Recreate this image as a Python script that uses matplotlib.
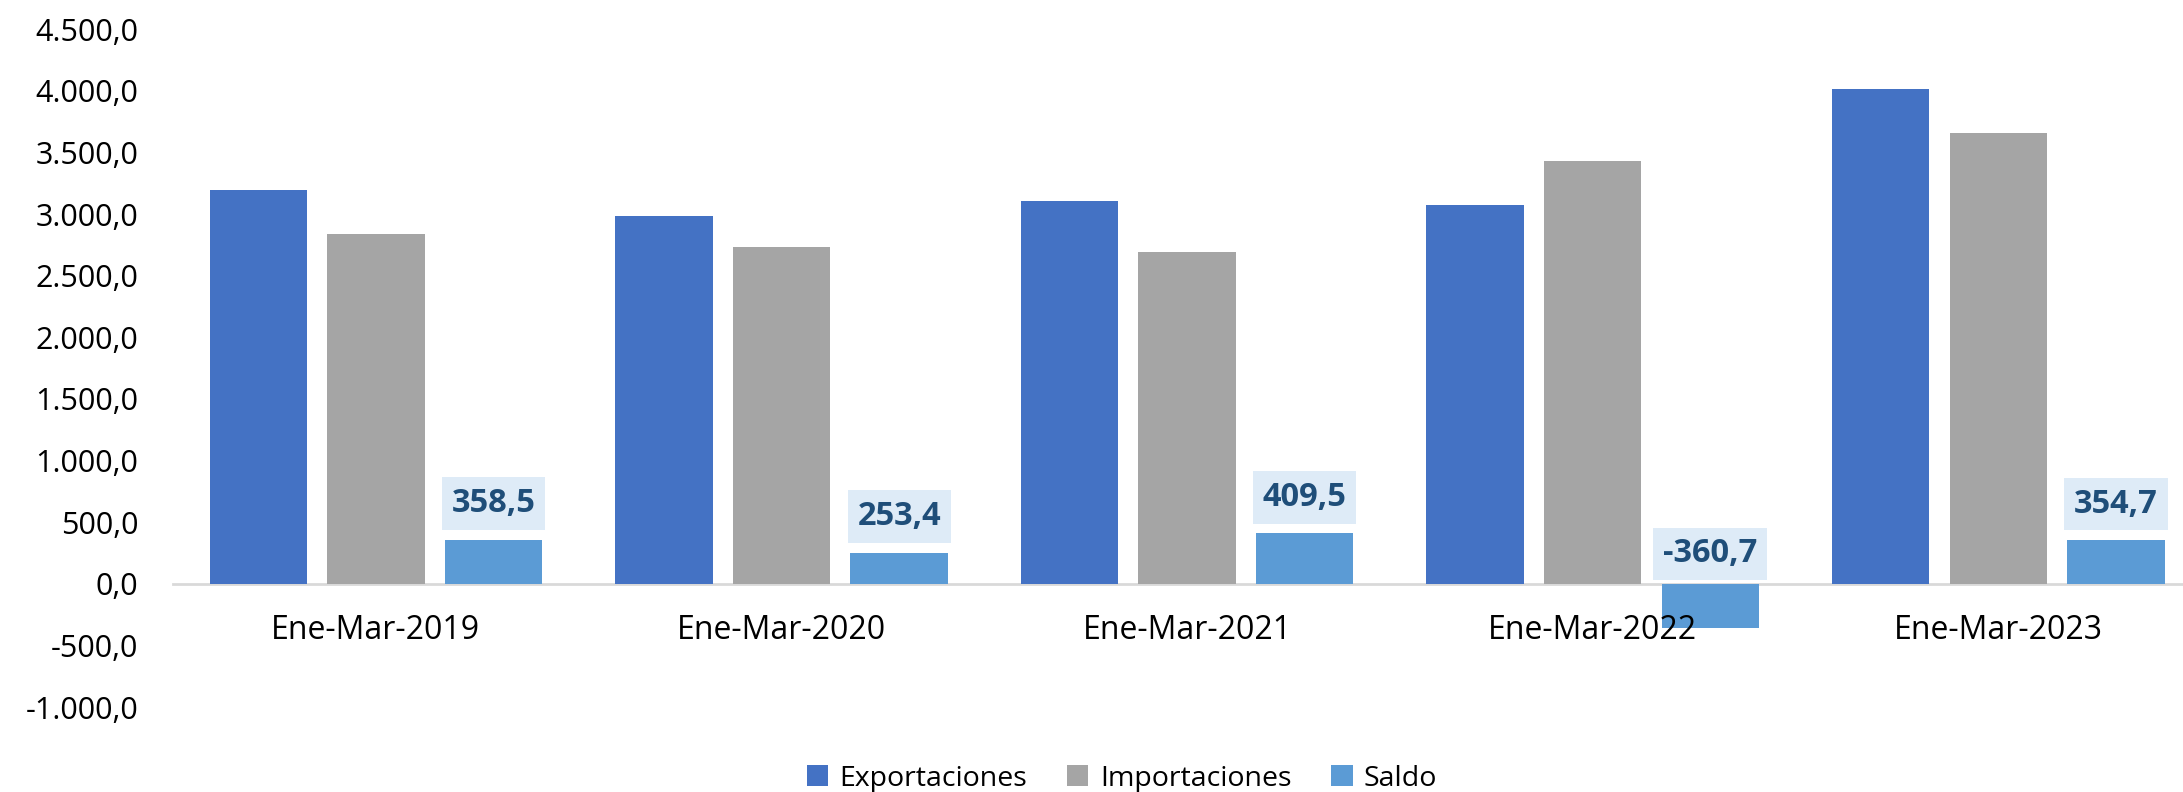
import matplotlib.pyplot as plt
import numpy as np

plt.rcParams['font.family'] = ['Open Sans', 'DejaVu Sans']

# Datos (millones)
periodos = ["Ene-Mar-2019", "Ene-Mar-2020", "Ene-Mar-2021", "Ene-Mar-2022", "Ene-Mar-2023"]
exportaciones = [3195.0, 2987.0, 3105.0, 3072.0, 4015.0]
importaciones = [2836.5, 2733.6, 2695.5, 3432.7, 3660.3]
saldo = [358.5, 253.4, 409.5, -360.7, 354.7]


def fmt_es(v):
    s = f"{v:,.1f}"
    return s.replace(",", "X").replace(".", ",").replace("X", ".")


fig = plt.figure(figsize=(21.83, 7.92), dpi=100)
ax = fig.add_axes([0.0793, 0.1073, 0.929, 0.8557])

x = np.arange(len(periodos))
w = 0.24
sep = 0.29

ax.bar(x - sep, exportaciones, w, color="#4472C4", label="Exportaciones")
ax.bar(x, importaciones, w, color="#A5A5A5", label="Importaciones")
ax.bar(x + sep, saldo, w, color="#5B9BD5", label="Saldo")

# etiquetas del saldo
for xi, v in zip(x + sep, saldo):
    off = 36 if v >= 0 else 30
    ax.annotate(fmt_es(v), (xi, max(v, 0)), xytext=(0, off), textcoords="offset pixels",
                ha="center", va="center", fontsize=23.5, fontweight="bold", color="#1F4E79",
                bbox=dict(boxstyle="square,pad=0.3", fc="#DEEBF7", ec="none"))

ax.set_xlim(-0.5, 4.5)
ax.set_ylim(-1000, 4500)
ax.set_yticks(np.arange(-1000, 4501, 500))
ax.set_yticklabels([fmt_es(t) for t in np.arange(-1000, 4501, 500)])
ax.set_xticks(x)
ax.set_xticklabels(periodos)

for s in ["top", "right", "left"]:
    ax.spines[s].set_visible(False)
ax.spines["bottom"].set_position(("data", 0))
ax.spines["bottom"].set_color("#D9D9D9")
ax.spines["bottom"].set_linewidth(2)
ax.spines["bottom"].set_zorder(0.5)
ax.tick_params(axis="y", length=0, pad=25, labelsize=22)
ax.tick_params(axis="x", length=0, pad=22, labelsize=23)

fig.legend(loc="lower center", bbox_to_anchor=(0.514, -0.033), ncols=3, frameon=False,
           fontsize=20.5, handlelength=0.75, handleheight=0.75, handletextpad=0.4, columnspacing=1.4)

fig.savefig("out.png", dpi=100)
